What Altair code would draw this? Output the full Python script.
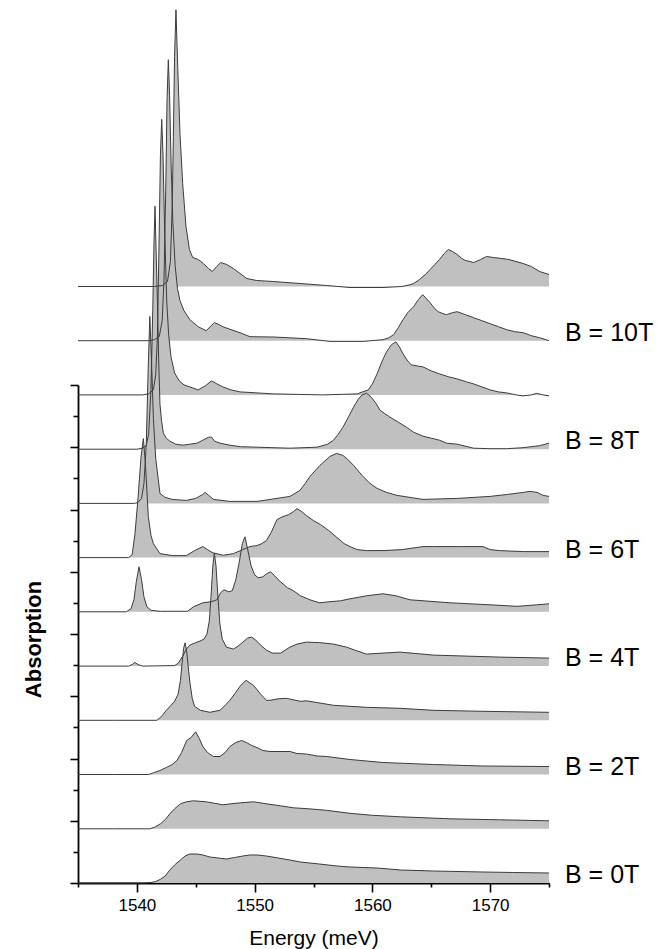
import altair as alt
import pandas as pd

# ---- data (energy in meV, absorption in arbitrary units) ----
fields = ["0T", "1T", "2T", "3T", "4T", "5T", "6T", "7T", "8T", "9T", "10T", "11T"]
offsets = [0, 54.2, 108.5, 162.7, 216.9, 271.2, 325.4, 379.6, 433.8, 488.1, 542.3, 596.5]

e_0T = [1535, 1538, 1540.5, 1541.2, 1541.6, 1542.0, 1542.4, 1542.8, 1543.2, 1543.7, 1544.1, 1544.5, 1545.1, 1545.6,
        1546.2, 1546.9, 1547.6, 1548.3, 1549.0, 1549.6, 1550.2, 1551.0, 1552.0, 1553.0, 1553.9, 1555.5, 1557.0,
        1558.1, 1560.4, 1562.4, 1565.2, 1569.4, 1572.0, 1575]
a_0T = [0, 0, 0, 0.5, 1.5, 3.7, 7, 13, 18, 23, 27, 29, 29, 28, 26, 25, 24, 25.5, 27, 28, 28, 27, 25, 23, 21, 19,
        17, 16, 15, 13, 12, 11, 10.5, 10]

e_1T = [1535, 1538, 1541.1, 1541.5, 1542.0, 1542.4, 1542.8, 1543.2, 1543.7, 1544.2, 1544.8, 1545.9, 1546.6,
        1547.3, 1548.0, 1548.8, 1549.9, 1551.0, 1552.2, 1553.3, 1554.6, 1556.1, 1558.1, 1560.0, 1562.4, 1566.6,
        1570.8, 1575]
a_1T = [0, 0, 0, 1.5, 5, 9, 15, 20, 25, 27, 28, 27, 25.5, 24, 25, 26, 27, 25, 23, 21, 20, 18.5, 15.5, 13.5, 12,
        10, 9, 8]

e_2T = [1535, 1538, 1541.0, 1541.4, 1541.96, 1542.5, 1543.0, 1543.4, 1543.8, 1544.23, 1544.6, 1544.99, 1545.3,
        1545.6, 1546.0, 1546.5, 1547.06, 1547.5, 1547.9, 1548.4, 1548.9, 1549.3, 1549.75, 1550.2, 1550.7, 1551.3,
        1551.9, 1552.4, 1553.0, 1553.6, 1554.4, 1555.3, 1556.1, 1558.1, 1560.9, 1565.2, 1569.4, 1575]
a_2T = [0, 0, 0, 1.7, 4, 7, 10, 14, 22, 34, 37, 42.7, 36, 28, 22, 18, 18, 22, 28, 32, 34, 32, 29, 27, 24, 23, 23,
        23, 23, 21, 20.5, 18.5, 18, 15, 12, 10, 8.5, 8]

e_3T = [1535, 1538, 1541.7, 1542.1, 1542.5, 1542.9, 1543.2, 1543.5, 1543.7, 1543.85, 1543.97, 1544.09, 1544.22,
        1544.35, 1544.5, 1544.7, 1544.9, 1545.4, 1546.2, 1547.06, 1547.5, 1547.9, 1548.4, 1548.76, 1549.27,
        1549.9, 1550.45, 1551.0, 1551.3, 1552.0, 1552.7, 1553.9, 1554.4, 1556.7, 1559.5, 1562.35, 1565.2,
        1569.4, 1575]
a_3T = [0, 0, 0, 4, 10, 15, 19, 26, 40, 58, 72, 77.5, 70, 55, 38, 22, 14, 10, 8, 10, 15, 20, 28, 34, 40, 35, 27,
        20, 20, 21.5, 22, 19, 19.5, 15, 13, 12, 10, 9, 8]

e_4T = [1535, 1539.3, 1539.6, 1539.84, 1540.1, 1540.5, 1543.2, 1543.52, 1543.9, 1544.2, 1544.5, 1545.0, 1545.36,
        1545.7, 1545.95, 1546.15, 1546.3, 1546.45, 1546.58, 1546.72, 1546.88, 1547.05, 1547.25, 1547.6, 1548.2,
        1548.6, 1549.0, 1549.4, 1549.75, 1550.1, 1550.5, 1551.0, 1551.5, 1552.2, 1553.0, 1553.6, 1554.4, 1555.5,
        1556.7, 1557.8, 1558.5, 1559.5, 1560.9, 1562.35, 1565.2, 1568.0, 1570.8, 1575]
a_4T = [0, 0, 1.5, 3.7, 1.5, 0, 0.5, 3, 10, 17, 21, 23.5, 25, 27, 32, 45, 70, 100, 113, 100, 70, 42, 27, 19, 17,
        20, 24, 28, 29, 26, 21, 16, 13, 13, 19, 22, 24, 23.5, 22, 19, 16, 12, 13, 14, 11, 10, 9, 8]

e_5T = [1535, 1539.1, 1539.5, 1539.75, 1539.95, 1540.18, 1540.4, 1540.6, 1540.85, 1541.2, 1542.0, 1544.3, 1544.8,
        1545.6, 1546.3, 1546.8, 1547.1, 1547.4, 1547.8, 1548.1, 1548.4, 1548.7, 1548.95, 1549.18, 1549.4, 1549.7,
        1550.0, 1550.3, 1550.7, 1551.0, 1551.35, 1551.7, 1552.2, 1552.8, 1553.3, 1553.9, 1554.7, 1555.5, 1556.3,
        1557.3, 1558.1, 1559.5, 1560.9, 1562.0, 1563.2, 1566.6, 1570.0, 1572.3, 1574.0, 1575]
a_5T = [0, 0, 3, 12, 30, 45, 32, 15, 5, 1.5, 0.5, 0.5, 5, 9, 10, 12, 19, 22, 20, 21, 32, 50, 68, 75, 63, 46, 37,
        34, 35, 38, 40, 36, 30, 24, 21, 16, 12, 9, 10, 11, 13, 16, 18, 16, 12, 9, 7, 5.5, 7, 8]

e_6T = [1535, 1539.3, 1539.6, 1539.84, 1540.1, 1540.35, 1540.55, 1540.72, 1540.97, 1541.2, 1541.4, 1541.96, 1543.0,
        1544.2, 1544.9, 1545.6, 1546.0, 1546.4, 1547.34, 1548.2, 1549.0, 1549.6, 1550.2, 1550.6, 1551.0, 1551.4,
        1551.9, 1552.4, 1552.9, 1553.3, 1553.6, 1554.0, 1554.4, 1555.0, 1555.6, 1556.3, 1557.0, 1557.6, 1558.1,
        1558.7, 1559.5, 1560.9, 1562.5, 1564.3, 1565.2, 1567.2, 1569.4, 1570.0, 1570.8, 1572.8, 1575]
a_6T = [0, 0, 3, 24, 60, 100, 119, 95, 41, 22, 14, 4, 2, 2, 7, 11, 8, 5, 2.3, 4, 8, 11, 12, 14, 17, 25, 38, 41, 43,
        46, 49, 46, 42, 37, 33, 27, 20, 14, 11, 8, 7, 7, 8, 11, 11, 11, 11, 8, 7, 6, 6]

e_7T = [1535, 1539.8, 1540.1, 1540.4, 1540.6, 1540.8, 1540.95, 1541.1, 1541.25, 1541.4, 1541.6, 1541.96, 1542.4,
        1543.0, 1544.2, 1545.0, 1545.6, 1545.8, 1546.1, 1546.5, 1547.9, 1550.2, 1551.9, 1553.0, 1553.85, 1554.3,
        1554.7, 1555.55, 1556.4, 1556.97, 1557.5, 1558.0, 1558.4, 1559.2, 1559.8, 1560.4, 1561.2, 1562.1, 1564.3,
        1567.2, 1570.0, 1571.5, 1572.8, 1573.4, 1574.0, 1574.5, 1575]
a_7T = [0, 0, 1, 5, 20, 60, 130, 187, 140, 85, 45, 10, 6, 4, 3, 5, 9, 11, 8, 4, 2, 2, 5, 7, 13, 20, 27, 38, 47, 50,
        48, 43, 38, 27, 20, 15, 11, 8, 4, 5, 7, 9, 11, 12, 11, 8, 7]

e_8T = [1535, 1540.0, 1540.5, 1540.8, 1541.0, 1541.2, 1541.35, 1541.45, 1541.54, 1541.63, 1541.74, 1541.85,
        1541.96, 1542.1, 1542.25, 1542.5, 1542.8, 1543.3, 1543.9, 1544.5, 1545.1, 1545.6, 1546.1, 1546.35, 1546.6,
        1547.06, 1547.9, 1548.8, 1550.2, 1553.0, 1555.3, 1556.2, 1556.7, 1557.1, 1557.5, 1558.0, 1558.4, 1558.8,
        1559.1, 1559.5, 1559.9, 1560.3, 1560.65, 1561.0, 1561.5, 1562.2, 1562.9, 1563.5, 1564.3, 1565.0, 1565.7,
        1566.3, 1567.2, 1568.6, 1570.0, 1571.4, 1572.8, 1574.2, 1575]
a_8T = [0, 0, 1, 4, 15, 60, 140, 205, 243, 200, 150, 90, 45, 28, 16, 11, 8, 5, 4, 5, 6, 9, 12, 12, 8, 6, 4, 2.5, 2,
        1, 2, 5, 9, 15, 22, 33, 42, 50, 54, 56, 52, 46, 39, 36, 32, 27, 22, 17, 13, 11, 9, 6, 5, 1, 0.5, 0.5, 1.5,
        3.5, 6]

e_9T = [1535, 1540.5, 1541.0, 1541.4, 1541.6, 1541.75, 1541.88, 1542.0, 1542.11, 1542.22, 1542.35, 1542.53, 1542.7,
        1542.9, 1543.2, 1543.6, 1544.0, 1544.5, 1545.2, 1545.8, 1546.35, 1546.8, 1547.3, 1548.0, 1548.76, 1551.6,
        1555.8, 1558.7, 1559.65, 1560.0, 1560.4, 1560.8, 1561.2, 1561.6, 1562.0, 1562.3, 1562.6, 1563.0, 1563.3,
        1563.8, 1564.3, 1565.0, 1565.7, 1566.5, 1567.2, 1568.0, 1568.6, 1569.3, 1570.0, 1570.7, 1571.4, 1572.2,
        1572.8, 1573.5, 1573.95, 1574.5, 1575]
a_9T = [0, 0, 1, 5, 20, 60, 150, 240, 275.6, 240, 170, 95, 60, 38, 22, 14, 10, 8, 5, 9, 14, 11, 8, 5, 3, 1, 0, 1,
        5, 11, 21, 33, 43, 50, 53, 48, 41, 34, 30, 29, 28, 24, 21, 18, 16, 13, 11, 8, 5, 3, 2, 0, -1, 0, 1.5, 0, -1]

e_10T = [1535, 1541.0, 1541.5, 1541.9, 1542.15, 1542.3, 1542.45, 1542.56, 1542.67, 1542.78, 1542.9, 1543.05,
         1543.25, 1543.45, 1543.66, 1544.0, 1544.5, 1545.2, 1545.9, 1546.3, 1546.6, 1547.0, 1547.3, 1548.0, 1548.76,
         1549.6, 1551.6, 1554.4, 1556.4, 1559.2, 1560.9, 1561.4, 1561.8, 1562.2, 1562.6, 1563.0, 1563.5, 1563.9,
         1564.27, 1564.6, 1564.9, 1565.3, 1565.6, 1566.0, 1566.3, 1566.8, 1567.2, 1567.9, 1568.6, 1569.3, 1570.0,
         1570.7, 1571.4, 1572.1, 1572.8, 1573.5, 1574.2, 1575]
a_10T = [0, 0, 1, 4, 20, 60, 150, 240, 281, 245, 180, 120, 75, 52, 40, 30, 21, 14, 10, 15, 18, 16, 14, 11, 8, 4,
         3.7, 2, -0.7, -0.7, 1, 3, 6, 13, 21, 28, 34, 41, 46, 42, 38, 32, 29, 27, 26, 28, 29, 26, 23, 20, 17, 14,
         11, 9, 8, 5, 3, 0]

e_11T = [1535, 1541.5, 1542.2, 1542.6, 1542.85, 1543.0, 1543.1, 1543.2, 1543.32, 1543.47, 1543.66, 1543.89,
         1544.17, 1544.46, 1544.74, 1545.22, 1545.65, 1546.07, 1546.4, 1546.78, 1547.12, 1547.63, 1548.19, 1548.76,
         1549.33, 1550.17, 1551.59, 1553.86, 1556.12, 1558.1, 1560.9, 1562.5, 1563.2, 1563.5, 1564.0, 1564.5,
         1564.9, 1565.3, 1565.7, 1566.1, 1566.45, 1566.8, 1567.2, 1567.6, 1567.9, 1568.3, 1568.6, 1569.2, 1569.7,
         1570.3, 1571.0, 1571.6, 1572.2, 1572.8, 1573.5, 1574.2, 1575]
a_11T = [0, 0, 1, 5, 25, 80, 150, 230, 276.7, 220, 153, 103, 60, 37, 29, 27, 23, 18, 15, 20, 24, 22, 18, 13, 8, 6,
         5, 3, 1, -1, -1, 0, 1.7, 3, 7, 12, 17, 22, 27, 33, 37, 35, 32, 28, 26, 25, 24, 27, 30, 29, 28, 27, 25, 23,
         20, 15, 12]

energies = [e_0T, e_1T, e_2T, e_3T, e_4T, e_5T, e_6T, e_7T, e_8T, e_9T, e_10T, e_11T]
absorb = [a_0T, a_1T, a_2T, a_3T, a_4T, a_5T, a_6T, a_7T, a_8T, a_9T, a_10T, a_11T]

label_fields = ["0T", "2T", "4T", "6T", "8T", "10T"]
label_texts = ["B = 0T", "B = 2T", "B = 4T", "B = 6T", "B = 8T", "B = 10T"]

x_ticks = [1535, 1540, 1545, 1550, 1555, 1560, 1565, 1570, 1575]
y_ticks = [0, 31.125, 62.25, 93.375, 124.5, 155.625, 186.75, 217.875, 249, 280.125, 311.25, 342.375, 373.5,
           404.625, 435.75, 466.875, 498]

# ---- build tables ----
rows = []
for k, f in enumerate(fields):
    for e, a in zip(energies[k], absorb[k]):
        rows.append({"B": f, "order": k, "E": e, "y": offsets[k] + a, "base": offsets[k]})
df = pd.DataFrame(rows)

lab = pd.DataFrame({
    "E": [1575] * len(label_fields),
    "y": [offsets[fields.index(f)] for f in label_fields],
    "text": label_texts,
})

FONT = "Liberation Sans"

xscale = alt.Scale(domain=[1535, 1575], nice=False, zero=False)
yscale = alt.Scale(domain=[0, 498], range=[872, 374], nice=False, zero=False)

xaxis = alt.Axis(
    values=x_ticks, format="d", grid=False,
    labelExpr="datum.value % 10 === 0 ? datum.label : ''",
    tickSize={"condition": {"test": "datum.value % 10 === 0", "value": 9}, "value": 4},
    tickWidth=1.6, domainWidth=1.8, domainColor="black", tickColor="black",
    labelFont=FONT, labelFontSize=17, labelColor="black", labelPadding=5,
    labelFlush=False, labelOverlap=False,
    title="Energy (meV)", titleFont=FONT, titleFontSize=21, titleFontWeight="normal",
    titleColor="black", titleY=61, titleBaseline="alphabetic",
)
yaxis = alt.Axis(
    values=y_ticks, labels=False, grid=False,
    tickSize={"condition": {"test": "abs(datum.value / 62.25 - round(datum.value / 62.25)) < 0.01",
                            "value": 8}, "value": 5},
    tickWidth=1.6, domainWidth=1.8, domainColor="black", tickColor="black",
    title="Absorption", titleFont=FONT, titleFontSize=22, titleFontWeight="bold", titleColor="black",
    titleAngle=270, titleX=-45, titleY=628, titleAlign="center", titleBaseline="middle",
)

base = alt.Chart(df)

areas = base.mark_area(color="#c0c0c0", opacity=1).encode(
    x=alt.X("E:Q", scale=xscale, axis=xaxis),
    y=alt.Y("y:Q", scale=yscale, axis=yaxis),
    y2="base:Q",
    detail="B:N",
)

lines = base.mark_line(color="#3c3c3c", strokeWidth=1).encode(
    x=alt.X("E:Q", scale=xscale),
    y=alt.Y("y:Q", scale=yscale),
    detail="B:N",
)

labels = alt.Chart(lab).mark_text(
    align="left", baseline="alphabetic", dx=16, font=FONT, fontSize=25, color="black"
).encode(
    x=alt.X("E:Q", scale=xscale),
    y=alt.Y("y:Q", scale=yscale),
    text="text:N",
)

chart = alt.layer(areas, lines, labels).properties(
    width=471, height=872,
    autosize=alt.AutoSizeParams(type="none"),
    padding={"left": 70, "top": 3, "right": 110, "bottom": 66},
    background="white",
).configure_view(stroke=None)

chart.save("out.html", embed_options={"renderer": "svg", "actions": False})
